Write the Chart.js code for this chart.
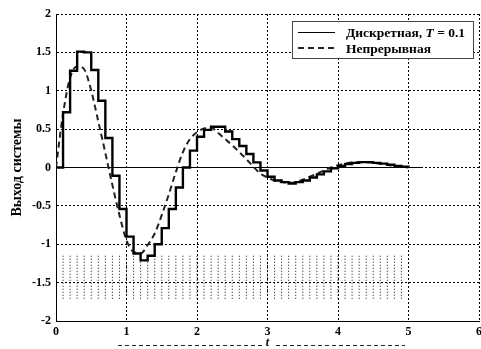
<!DOCTYPE html>
<html><head><meta charset="utf-8">
<script src="https://cdn.jsdelivr.net/npm/chart.js@4/dist/chart.umd.min.js"></script>
<style>html,body{margin:0;padding:0;background:#fff;}canvas{display:block;}</style>
</head><body>
<canvas id="c" width="481" height="349"></canvas>
<script>
// ---- data ----
const timeValues = [0,0.1,0.2,0.3,0.4,0.5,0.6,0.7,0.8,0.9,1.0,1.1,1.2,1.3,1.4,1.5,1.6,1.7,1.8,1.9,2.0,2.1,2.2,2.3,2.4,2.5,2.6,2.7,2.8,2.9,3.0,3.1,3.2,3.3,3.4,3.5,3.6,3.7,3.8,3.9,4.0,4.1,4.2,4.3,4.4,4.5,4.6,4.7,4.8,4.9,5.0];
const discreteValues = [0,0.72,1.26,1.51,1.50,1.27,0.87,0.385,-0.107,-0.54,-0.90,-1.12,-1.21,-1.15,-1.0,-0.79,-0.54,-0.26,0.0,0.22,0.40,0.49,0.53,0.53,0.47,0.37,0.28,0.175,0.067,-0.04,-0.12,-0.17,-0.19,-0.21,-0.19,-0.17,-0.13,-0.09,-0.05,-0.01,0.02,0.045,0.06,0.07,0.07,0.06,0.05,0.035,0.02,0.01,0.0];
const continuousValues = [0,0.70,1.17,1.32,1.28,1.0,0.6,0.19,-0.23,-0.62,-0.95,-1.10,-1.12,-1.01,-0.86,-0.62,-0.35,-0.06,0.2,0.37,0.46,0.51,0.52,0.45,0.37,0.29,0.2,0.11,0.01,-0.08,-0.13,-0.17,-0.19,-0.2,-0.19,-0.16,-0.12,-0.08,-0.04,0.0,0.03,0.05,0.065,0.07,0.07,0.06,0.05,0.035,0.02,0.01,0.0];
const sampleTimes = timeValues.slice(1, 50);
const stemRange = [-1.15, -1.72];
const zeroLineX = [0, 5.2];
const zeroLineY = [0, 0];
const xTickValues = [0,1,2,3,4,5,6];
const yTickValues = [-2,-1.5,-1,-0.5,0,0.5,1,1.5,2];
const seriesNames = ['Дискретная, ', 'Непрерывная'];
const legendSuffix = ['T', ' = 0.1'];
const xTitle = 't';
const yTitle = 'Выход системы';

// ---- build datasets ----
const stemPoints = [];
sampleTimes.forEach(t => {
  stemPoints.push({x: t, y: stemRange[0]});
  stemPoints.push({x: t, y: stemRange[1]});
  stemPoints.push({x: t, y: null});
});

const serif = 'Liberation Serif, Times New Roman, serif';

const legendPlugin = {
  id: 'boxLegend',
  afterDraw(chart) {
    const ctx = chart.ctx;
    const bx = 292.5, by = 21.5, bw = 181, bh = 37;
    ctx.save();
    ctx.fillStyle = '#fff';
    ctx.fillRect(bx, by, bw, bh);
    ctx.strokeStyle = '#444';
    ctx.lineWidth = 1;
    ctx.setLineDash([]);
    ctx.strokeRect(bx, by, bw, bh);
    ctx.strokeStyle = '#000';
    ctx.lineWidth = 1;
    ctx.beginPath(); ctx.moveTo(298, 32.5); ctx.lineTo(335, 32.5); ctx.stroke();
    ctx.lineWidth = 2;
    ctx.strokeStyle = '#222';
    ctx.setLineDash([6, 4]);
    ctx.beginPath(); ctx.moveTo(298, 48); ctx.lineTo(335, 48); ctx.stroke();
    ctx.setLineDash([]);
    ctx.fillStyle = '#000';
    ctx.textBaseline = 'alphabetic';
    ctx.textAlign = 'left';
    const fs = 13.5;
    ctx.font = 'bold ' + fs + 'px ' + serif;
    let x = 346;
    ctx.fillText(seriesNames[0], x, 37);
    x += ctx.measureText(seriesNames[0]).width;
    ctx.font = 'italic bold ' + fs + 'px ' + serif;
    ctx.fillText(legendSuffix[0], x, 37);
    x += ctx.measureText(legendSuffix[0]).width;
    ctx.font = 'bold ' + fs + 'px ' + serif;
    ctx.fillText(legendSuffix[1], x, 37);
    ctx.fillText(seriesNames[1], 346, 53);
    ctx.restore();
  }
};

const titleDashPlugin = {
  id: 'titleDash',
  afterDraw(chart) {
    const ctx = chart.ctx;
    ctx.save();
    ctx.strokeStyle = '#222';
    ctx.lineWidth = 1;
    ctx.setLineDash([4, 3]);
    const y = chart.height - 3.5;
    ctx.beginPath(); ctx.moveTo(118, y); ctx.lineTo(262, y); ctx.stroke();
    ctx.beginPath(); ctx.moveTo(276, y); ctx.lineTo(405, y); ctx.stroke();
    ctx.restore();
  }
};

new Chart(document.getElementById('c'), {
  type: 'line',
  data: {
    datasets: [
      { label: 'zero', data: zeroLineX.map((x, i) => ({x, y: zeroLineY[i]})), borderColor: '#000', borderWidth: 1, pointRadius: 0, order: 3 },
      { label: seriesNames[0], data: timeValues.map((x, i) => ({x, y: discreteValues[i]})), stepped: 'before', borderColor: '#000', borderWidth: 2.4, pointRadius: 0, order: 1 },
      { label: seriesNames[1], data: timeValues.map((x, i) => ({x, y: continuousValues[i]})), borderColor: '#222', borderWidth: 2, borderDash: [6, 4], cubicInterpolationMode: 'monotone', pointRadius: 0, order: 2 },
      { label: 'stems', data: stemPoints, borderColor: '#111', borderWidth: 1, borderDash: [1, 2], spanGaps: false, pointRadius: 0, order: 4 }
    ]
  },
  options: {
    responsive: false,
    animation: false,
    devicePixelRatio: 1,
    layout: { padding: { top: 14, right: 2, left: 0, bottom: 0 } },
    plugins: { legend: { display: false }, tooltip: { enabled: false } },
    scales: {
      x: {
        type: 'linear', min: xTickValues[0], max: xTickValues[xTickValues.length - 1],
        afterFit(s) { s.height = 28; s.paddingLeft = 0; s.paddingRight = 0; },
        afterBuildTicks(s) { s.ticks = xTickValues.map(v => ({value: v})); },
        ticks: { padding: 4, color: '#000', font: { family: serif, size: 12, weight: 'bold' }, callback: v => String(v) },
        grid: { color: '#000', lineWidth: 1, drawTicks: false },
        border: { color: '#000', width: 1, dash: [2, 2] },
        title: { display: true, text: xTitle, color: '#000', font: { family: serif, size: 12, weight: 'bold', style: 'italic', lineHeight: 1 }, padding: { top: 0, bottom: 0 } }
      },
      y: {
        type: 'linear', min: yTickValues[0], max: yTickValues[yTickValues.length - 1],
        afterFit(s) { s.width = 56; s.paddingTop = 0; s.paddingBottom = 0; },
        afterBuildTicks(s) { s.ticks = yTickValues.map(v => ({value: v})); },
        ticks: { padding: 5, color: '#000', font: { family: serif, size: 12, weight: 'bold' }, callback: v => String(v) },
        grid: { color: '#000', lineWidth: 1, drawTicks: false },
        border: { color: '#000', width: 1, dash: [2, 2] },
        title: { display: true, text: yTitle, color: '#000', font: { family: serif, size: 14, weight: 'bold' }, padding: { top: 9, bottom: 0 } }
      }
    }
  },
  plugins: [legendPlugin, titleDashPlugin]
});
</script>
</body></html>
